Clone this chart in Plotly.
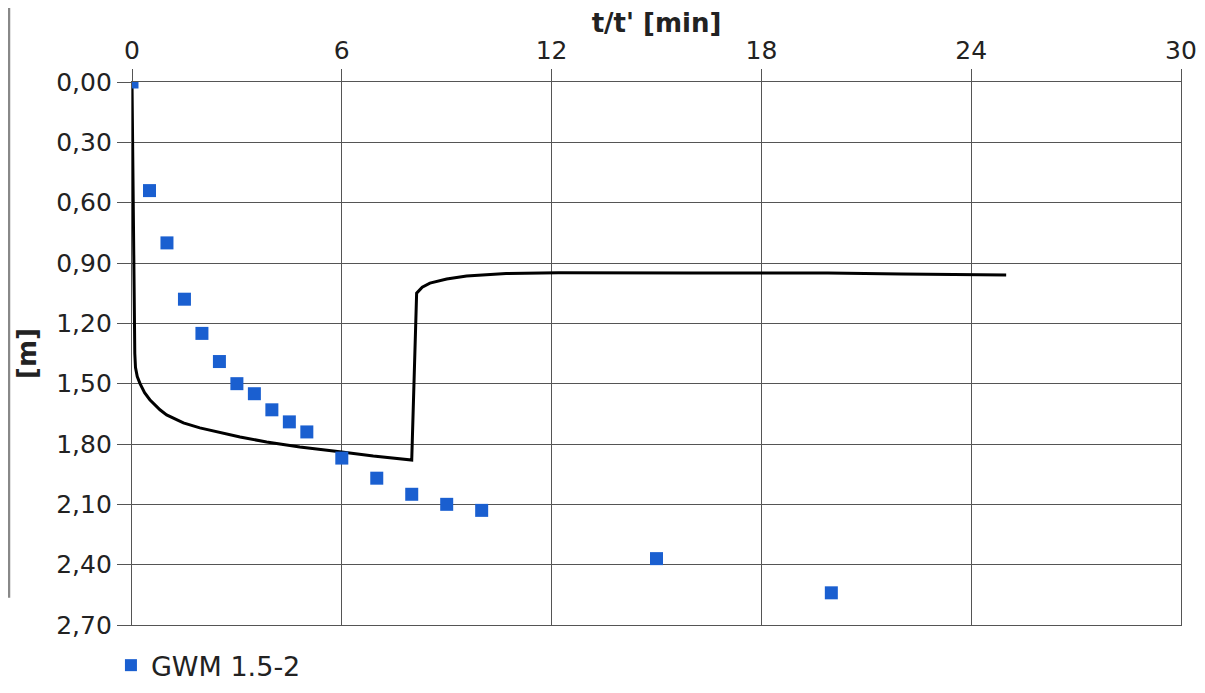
import plotly.graph_objects as go

# Measured points (GWM 1.5-2)
meas_t = [0, 0.5, 1.0, 1.5, 2.0, 2.5, 3.0, 3.5, 4.0, 4.5, 5.0, 6.0, 7.0, 8.0, 9.0, 10.0, 15.0, 20.0]
meas_s = [0.00, 0.54, 0.80, 1.08, 1.25, 1.39, 1.50, 1.55, 1.63, 1.69, 1.74, 1.87, 1.97, 2.05, 2.10, 2.13, 2.37, 2.54]

# Model curve
curve_t = [0, 0.02, 0.04, 0.06, 0.08, 0.10, 0.15, 0.23, 0.36, 0.51, 0.8, 0.99, 1.47, 1.94, 2.42, 3.09, 3.85, 4.8, 6.0, 6.9, 8.0,
           8.14, 8.3, 8.52, 9.0, 9.57, 10.7, 12.2, 16.0, 19.9, 22.0, 25.0]
curve_s = [0.00, 0.40, 0.80, 1.15, 1.35, 1.42, 1.465, 1.50, 1.545, 1.58, 1.63, 1.655, 1.695, 1.72, 1.74, 1.765, 1.79, 1.815, 1.84, 1.86, 1.88,
           1.05, 1.02, 1.00, 0.98, 0.965, 0.952, 0.949, 0.95, 0.95, 0.955, 0.96]

x_ticks = [0, 6, 12, 18, 24, 30]
y_ticks = [0.0, 0.3, 0.6, 0.9, 1.2, 1.5, 1.8, 2.1, 2.4, 2.7]

FONT = "DejaVu Sans"
GRID = "#555555"

fig = go.Figure()
fig.add_trace(go.Scatter(x=curve_t, y=curve_s, mode="lines",
                         line=dict(color="black", width=3),
                         showlegend=False, hoverinfo="skip"))
fig.add_trace(go.Scatter(x=meas_t, y=meas_s, mode="markers", name="GWM 1.5-2",
                         marker=dict(symbol="square", size=13, color="#1a5fd0")))

fig.update_layout(
    width=1197, height=685,
    margin=dict(l=124, r=24, t=74, b=68),
    paper_bgcolor="white", plot_bgcolor="white",
    separators=",.",
    font=dict(family=FONT, size=25, color="#222222"),
    showlegend=True,
    legend=dict(orientation="h", xref="container", yref="container",
                x=0.086, xanchor="left", y=0.04, yanchor="middle",
                font=dict(size=27), bgcolor="rgba(0,0,0,0)", itemsizing="constant"),
    xaxis=dict(side="top", range=[0, 30], tickvals=x_ticks, ticktext=[str(v) for v in x_ticks],
               automargin=False,
               showgrid=True, gridcolor=GRID, gridwidth=1.2,
               showline=True, linecolor=GRID, linewidth=1.2, mirror=True,
               ticks="outside", ticklen=12, tickcolor=GRID, zeroline=False,
               title=dict(text="<b>t/t' [min]</b>", font=dict(size=26), standoff=2)),
    yaxis=dict(range=[2.7, 0], tickvals=y_ticks, tickformat=".2f",
               automargin=False,
               showgrid=True, gridcolor=GRID, gridwidth=1.2,
               showline=True, linecolor=GRID, linewidth=1.2, mirror=True,
               ticks="outside", ticklen=14, tickcolor=GRID, zeroline=False,
               title=dict(text="<b>[m]</b>", font=dict(size=26), standoff=12)),
)

fig.add_shape(type="line", xref="paper", yref="paper", x0=-0.1175, x1=-0.1175, y0=0.05, y1=1.14,
              line=dict(color="#888888", width=3))

fig.write_html("out.html")
